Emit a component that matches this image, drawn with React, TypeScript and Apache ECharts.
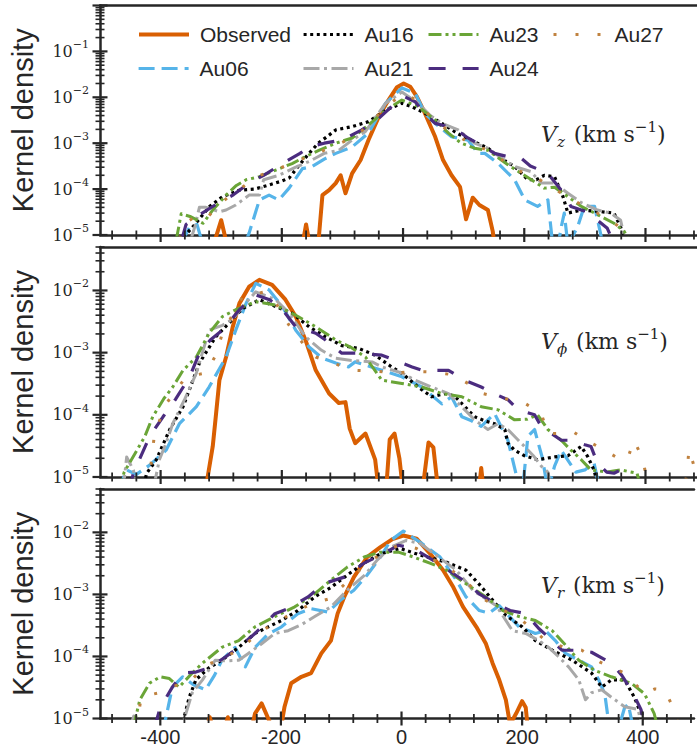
import React, { useEffect, useRef } from "react";
import * as echarts from "echarts";

type Pt = [number, number];

const seriesNames = ["Observed", "Au06", "Au16", "Au21", "Au23", "Au24", "Au27"];
const xTickLabels = [-400, -200, 0, 200, 400];
const xMinorTicks = [-480, -440, -360, -320, -280, -240, -160, -120, -80, -40, 40, 80, 120, 160, 240, 280, 320, 360, 440, 480];
const topYTickExponents = [-1, -2, -3, -4, -5];
const lowerYTickExponents = [-2, -3, -4, -5];
const panelSubscripts = ["z", "ϕ", "r"];

// ---------- V_z ----------
const vzObserved: Pt[] = [[-320,3e-6],[-300,2.1e-5],[-285,3e-6],[-170,3e-6],[-160,1.7e-5],[-150,3e-6],[-140,6e-6],[-133,7.4e-5],[-122,9.5e-5],[-111,1.35e-4],[-103,2.0e-4],[-95,8.1e-5],[-84,2.2e-4],[-70,4.3e-4],[-57,1.17e-3],[-40,3.8e-3],[-24,8.7e-3],[-10,1.66e-2],[1,2.0e-2],[12,1.7e-2],[23,1.02e-2],[36,4.5e-3],[53,1.38e-3],[66,4.3e-4],[80,2.0e-4],[94,1.12e-4],[104,2.2e-5],[115,6.5e-5],[126,4.5e-5],[140,3.5e-5],[148,1.2e-5],[152,5e-6]];
const vzAu06: Pt[] = [[-365,7e-6],[-352,1.5e-5],[-340,1.7e-5],[-330,6e-6],[-262,6e-6],[-254,1.1e-5],[-237,5.8e-5],[-221,7.4e-5],[-205,5.8e-5],[-188,1.05e-4],[-166,2.8e-4],[-150,3.1e-4],[-130,4.5e-4],[-111,6e-4],[-84,8.3e-4],[-57,1.66e-3],[-29,7.4e-3],[-2,1.6e-2],[20,1.23e-2],[36,4.5e-3],[53,2.7e-3],[80,1.38e-3],[107,1.17e-3],[124,6e-4],[135,6e-4],[157,3.6e-4],[184,1.6e-4],[201,5.8e-5],[222,4.2e-5],[239,5.8e-5],[246,8e-6],[256,6e-6],[261,1.5e-5],[266,3e-5],[272,6e-6],[288,1.5e-5],[299,4.2e-5],[316,4.2e-5],[328,8e-6]];
const vzAu16: Pt[] = [[-362,9e-6],[-347,1.5e-5],[-330,2.8e-5],[-319,4.2e-5],[-298,6.8e-5],[-270,9.5e-5],[-245,1.0e-4],[-221,1.23e-4],[-200,1.5e-4],[-188,1.74e-4],[-170,3.5e-4],[-155,6e-4],[-140,1.0e-3],[-122,1.5e-3],[-111,1.95e-3],[-84,2.3e-3],[-57,2.95e-3],[-29,5.2e-3],[-2,7.4e-3],[14,6.3e-3],[36,4.5e-3],[64,2.7e-3],[91,1.6e-3],[118,1.07e-3],[140,7.8e-4],[157,5.1e-4],[184,3.1e-4],[206,1.6e-4],[220,1.6e-4],[233,2.0e-4],[250,1.86e-4],[264,6.8e-5],[272,3.0e-5],[294,3.5e-5],[320,3.3e-5],[348,3.0e-5],[359,1.5e-5],[365,8e-6]];
const vzAu21: Pt[] = [[-350,8e-6],[-343,1.6e-5],[-336,4e-5],[-325,4e-5],[-303,3.2e-5],[-292,3.5e-5],[-276,4.5e-5],[-254,7.4e-5],[-237,7.4e-5],[-230,1.6e-4],[-205,2.0e-4],[-177,3.0e-4],[-155,4e-4],[-130,6e-4],[-106,7e-4],[-84,1.17e-3],[-62,1.8e-3],[-29,7.4e-3],[-2,1.3e-2],[25,7.4e-3],[45,4e-3],[64,2.7e-3],[91,1.95e-3],[118,1.0e-3],[140,7.8e-4],[160,5e-4],[184,3.1e-4],[211,2.4e-4],[228,1.35e-4],[250,1.35e-4],[272,8.1e-5],[295,5e-5],[321,3.5e-5],[343,3.0e-5],[359,2.1e-5],[366,8e-6]];
const vzAu23: Pt[] = [[-374,8e-6],[-366,2.9e-5],[-350,2.5e-5],[-330,1.8e-5],[-314,3.5e-5],[-292,7.4e-5],[-275,1.2e-4],[-259,1.6e-4],[-237,1.86e-4],[-210,2.6e-4],[-183,3.6e-4],[-161,5.1e-4],[-139,7e-4],[-111,1.0e-3],[-84,1.3e-3],[-57,2.5e-3],[-29,5.2e-3],[-2,8.7e-3],[25,6.3e-3],[53,3.2e-3],[75,1.66e-3],[96,1.0e-3],[118,7.8e-4],[140,7e-4],[173,3.4e-4],[195,2.2e-4],[215,1.5e-4],[233,1.05e-4],[250,1.1e-4],[272,6.8e-5],[294,4.2e-5],[316,3.0e-5],[348,1.8e-5],[365,1.2e-5],[372,8e-6]];
const vzAu24: Pt[] = [[-365,8e-6],[-358,1.7e-5],[-341,2.5e-5],[-308,4.7e-5],[-280,7.5e-5],[-254,1.35e-4],[-230,2.0e-4],[-199,3.6e-4],[-170,6e-4],[-155,8.3e-4],[-130,1.0e-3],[-101,1.17e-3],[-68,1.95e-3],[-40,3.5e-3],[-15,7e-3],[3,1.02e-2],[20,8e-3],[35,4.5e-3],[53,2.7e-3],[85,2.1e-3],[107,1.3e-3],[129,9e-4],[151,6e-4],[175,5e-4],[195,4.7e-4],[210,3.2e-4],[239,2.2e-4],[261,9.5e-5],[277,4.2e-5],[300,3.3e-5],[321,2.1e-5],[337,1.4e-5],[345,8e-6]];
const vzAu27: Pt[] = [[-470,5e-6],[-460,1.1e-5],[-450,5e-6],[-372,6e-6],[-360,1.8e-5],[-345,2.4e-5],[-325,2.2e-5],[-310,3.8e-5],[-290,6.5e-5],[-265,1.1e-4],[-243,1.86e-4],[-210,2.6e-4],[-177,4e-4],[-150,5.5e-4],[-120,8e-4],[-90,1.2e-3],[-60,2.2e-3],[-30,6e-3],[0,1.2e-2],[20,9e-3],[40,4.5e-3],[60,2.5e-3],[85,1.6e-3],[110,1.0e-3],[140,7e-4],[165,4.2e-4],[190,2.5e-4],[215,2.0e-4],[244,1.1e-4],[270,7e-5],[295,4.5e-5],[316,3.2e-5],[340,2.2e-5],[360,1.4e-5],[372,7e-6]];

// ---------- V_phi ----------
const vphiObserved: Pt[] = [[-325,7e-6],[-314,3.1e-5],[-309,9.3e-5],[-303,3.6e-4],[-292,8.5e-4],[-281,2.6e-3],[-270,6.2e-3],[-254,1.15e-2],[-237,1.48e-2],[-216,1.23e-2],[-194,7.1e-3],[-177,3.8e-3],[-161,1.6e-3],[-144,5.2e-4],[-122,2.2e-4],[-106,1.55e-4],[-95,1.6e-4],[-88,6e-5],[-79,3.5e-5],[-62,5e-5],[-46,1.9e-5],[-40,6e-6],[-28,6e-6],[-22,4e-5],[-14,5e-5],[-6,2e-5],[0,6e-6],[32,6e-6],[42,3.6e-5],[50,3e-5],[58,6e-6],[125,6e-6],[129,1.4e-5],[133,6e-6]];
const vphiAu06: Pt[] = [[-470,6e-6],[-456,1.3e-5],[-440,1.1e-5],[-418,1.55e-5],[-391,2.7e-5],[-369,7.2e-5],[-341,1.35e-4],[-320,2.8e-4],[-292,8.5e-4],[-276,2.3e-3],[-259,6.2e-3],[-243,1.3e-2],[-221,1.02e-2],[-199,5.5e-3],[-177,2.3e-3],[-155,1.23e-3],[-133,8.1e-4],[-111,6.8e-4],[-90,5.9e-4],[-79,7.1e-4],[-55,6e-4],[-35,5.2e-4],[-2,4.1e-4],[31,2.8e-4],[64,1.5e-4],[80,1.95e-4],[97,9.3e-5],[113,8e-5],[129,6.5e-5],[151,1.05e-4],[173,3.9e-5],[190,8e-6],[197,6e-6],[206,4.5e-5],[217,5.8e-5],[230,2e-5],[239,6e-6],[250,1.5e-5],[261,2.7e-5],[285,1.2e-5],[300,1.3e-5],[315,1.7e-5],[325,6e-6]];
const vphiAu16: Pt[] = [[-430,6e-6],[-423,1.15e-5],[-407,1.9e-5],[-385,5.8e-5],[-363,1.35e-4],[-336,6.8e-4],[-309,1.8e-3],[-287,3.0e-3],[-265,5.1e-3],[-237,7.1e-3],[-210,5.5e-3],[-183,4.3e-3],[-155,2.6e-3],[-128,1.8e-3],[-101,1.3e-3],[-73,1.17e-3],[-46,9.1e-4],[-20,6e-4],[0,4.5e-4],[25,2.8e-4],[47,1.95e-4],[70,2.2e-4],[85,2.0e-4],[102,1.35e-4],[118,9.3e-5],[135,8e-5],[151,7.2e-5],[168,5.8e-5],[173,3.5e-5],[184,2.7e-5],[200,2.2e-5],[222,1.9e-5],[250,2.1e-5],[272,2.2e-5],[294,3.1e-5],[305,2.1e-5],[315,1.3e-5],[322,7e-6]];
const vphiAu21: Pt[] = [[-462,6e-6],[-456,2.1e-5],[-445,1.3e-5],[-438,6e-6],[-410,8e-6],[-402,1.9e-5],[-391,3.5e-5],[-380,7.2e-5],[-360,1.8e-4],[-341,4.7e-4],[-320,2.3e-3],[-298,2.75e-3],[-280,3.5e-3],[-265,5.5e-3],[-243,9.5e-3],[-210,7.1e-3],[-188,4.3e-3],[-161,1.8e-3],[-135,1.1e-3],[-111,8.1e-4],[-85,7.5e-4],[-51,7.1e-4],[-35,5.9e-4],[-2,4.7e-4],[20,3.6e-4],[47,2.8e-4],[75,2.2e-4],[102,1.2e-4],[118,8.3e-5],[140,5.8e-5],[157,7.2e-5],[173,5.8e-5],[195,3.5e-5],[215,2.2e-5],[228,1.5e-5],[239,1.2e-5],[245,6e-6]];
const vphiAu23: Pt[] = [[-470,6e-6],[-460,1.2e-5],[-440,2.6e-5],[-426,4.5e-5],[-413,9.3e-5],[-395,1.8e-4],[-380,2.8e-4],[-363,5.2e-4],[-341,8.5e-4],[-320,2.05e-3],[-298,3.8e-3],[-276,4.9e-3],[-243,6.6e-3],[-210,5.8e-3],[-177,4.0e-3],[-144,2.6e-3],[-111,1.6e-3],[-85,1.2e-3],[-62,8.5e-4],[-35,3.6e-4],[-2,3.2e-4],[31,2.8e-4],[64,2.2e-4],[97,1.95e-4],[129,1.35e-4],[157,1.2e-4],[184,8.3e-5],[205,8.5e-5],[222,1.0e-4],[239,5.8e-5],[261,3.9e-5],[277,2.7e-5],[294,1.9e-5],[310,1.3e-5],[337,1.2e-5],[359,1.3e-5],[386,1.15e-5],[392,7e-6]];
const vphiAu24: Pt[] = [[-452,6e-6],[-445,1.15e-5],[-418,4.5e-5],[-396,9.3e-5],[-375,1.8e-4],[-352,4.1e-4],[-336,9.8e-4],[-318,1.6e-3],[-298,2.3e-3],[-270,4.9e-3],[-243,8.5e-3],[-220,7.1e-3],[-199,4.9e-3],[-177,2.6e-3],[-144,2.05e-3],[-128,1.6e-3],[-101,9.8e-4],[-73,9.8e-4],[-35,9.1e-4],[15,5.9e-4],[31,5.2e-4],[75,5.2e-4],[102,3.6e-4],[129,2.8e-4],[150,2.2e-4],[173,1.75e-4],[190,1.2e-4],[217,1.0e-4],[228,6.5e-5],[261,3.9e-5],[277,3.9e-5],[300,3.3e-5],[310,3.1e-5],[321,1.66e-5],[336,1.2e-5],[348,1.15e-5],[359,1.3e-5],[366,9e-6]];
const vphiAu27: Pt[] = [[-420,7e-6],[-410,5e-5],[-391,1.5e-4],[-358,4.1e-4],[-325,4.7e-4],[-309,9.1e-4],[-298,2.05e-3],[-265,7.9e-3],[-229,9.5e-3],[-210,6.3e-3],[-188,2.75e-3],[-165,1.4e-3],[-144,8.5e-4],[-110,6.5e-4],[-79,5.2e-4],[-40,5e-4],[-13,4.7e-4],[20,5e-4],[47,4.9e-4],[83,4.4e-4],[107,3.2e-4],[132,2.2e-4],[162,1.86e-4],[198,1.6e-4],[228,1.05e-4],[239,5e-5],[260,5e-5],[280,5.4e-5],[300,4e-5],[330,2.8e-5],[355,2.0e-5],[370,1.9e-5],[381,3.9e-5],[395,2e-5],[405,7e-6],[465,6e-6],[472,2.8e-5],[480,1.5e-5],[486,7e-6]];

// ---------- V_r ----------
const vrObserved: Pt[] = [[-325,6e-6],[-318,1.05e-5],[-311,6e-6],[-295,6e-6],[-288,1.05e-5],[-281,6e-6],[-250,6e-6],[-243,1.2e-5],[-232,1.75e-5],[-221,1.0e-5],[-212,6e-6],[-200,7e-6],[-194,1.55e-5],[-183,3.7e-5],[-166,4.7e-5],[-150,5.4e-5],[-133,1.12e-4],[-117,1.8e-4],[-106,4.9e-4],[-95,9.1e-4],[-79,1.9e-3],[-57,4.0e-3],[-35,5.8e-3],[-15,7.8e-3],[3,8.9e-3],[25,7.9e-3],[47,4.6e-3],[69,2.45e-3],[86,1.3e-3],[102,6.3e-4],[124,3.0e-4],[140,1.6e-4],[151,7.8e-5],[162,4.2e-5],[173,2.0e-5],[180,8e-6],[190,1.2e-5],[200,1.9e-5],[206,1.5e-5],[210,6e-6]];
const vrAu06: Pt[] = [[-398,6e-6],[-391,1e-5],[-380,3.2e-5],[-363,4.7e-5],[-345,3.5e-5],[-325,2.9e-5],[-310,5e-5],[-298,8.7e-5],[-276,1.4e-4],[-259,6.8e-5],[-243,1.4e-4],[-221,2.3e-4],[-199,3.0e-4],[-172,4.9e-4],[-150,5.9e-4],[-122,5.2e-4],[-101,8.1e-4],[-79,1.17e-3],[-57,2.05e-3],[-35,4.0e-3],[-18,7.4e-3],[3,1.05e-2],[31,6.9e-3],[64,4.0e-3],[91,1.7e-3],[107,9.1e-4],[129,5.5e-4],[145,5e-4],[162,6.6e-4],[179,4.4e-4],[195,3.0e-4],[222,2.35e-4],[239,2.6e-4],[255,1.8e-4],[272,1.12e-4],[294,8.7e-5],[315,6.8e-5],[327,4.2e-5],[337,2.5e-5],[344,8e-6],[360,7e-6],[370,1.5e-5],[376,1.7e-5],[383,8e-6]];
const vrAu16: Pt[] = [[-365,7e-6],[-352,2.2e-5],[-341,4.2e-5],[-320,6.5e-5],[-298,8.7e-5],[-270,1.4e-4],[-243,2.35e-4],[-221,3.0e-4],[-199,3.8e-4],[-172,5.5e-4],[-144,9.1e-4],[-117,1.3e-3],[-90,2.05e-3],[-62,3.2e-3],[-35,4.5e-3],[-2,5.5e-3],[31,4.3e-3],[75,3.3e-3],[107,2.45e-3],[129,1.45e-3],[151,8.1e-4],[173,4.6e-4],[200,3.0e-4],[222,1.8e-4],[250,1.26e-4],[283,8.7e-5],[315,5.4e-5],[332,3.2e-5],[348,4.2e-5],[370,4.2e-5],[386,2.2e-5],[397,1.2e-5],[402,7e-6]];
const vrAu21: Pt[] = [[-450,7e-6],[-444,1.1e-5],[-438,7e-6],[-365,7e-6],[-347,2.6e-5],[-330,4.2e-5],[-309,8.7e-5],[-290,8.5e-5],[-270,8.7e-5],[-254,1.12e-4],[-232,1.6e-4],[-210,2.35e-4],[-188,2.6e-4],[-165,3.3e-4],[-144,4.4e-4],[-117,6.3e-4],[-90,1.17e-3],[-62,2.0e-3],[-40,3.6e-3],[-18,5.8e-3],[8,7.4e-3],[31,6.6e-3],[53,4.6e-3],[91,2.45e-3],[118,1.17e-3],[157,6.6e-4],[184,2.6e-4],[206,2.35e-4],[228,1.8e-4],[244,1.4e-4],[260,1.0e-4],[277,6.8e-5],[294,4.2e-5],[305,2.0e-5],[315,2.6e-5],[332,2.9e-5],[348,2.2e-5],[370,1.55e-5],[392,1.4e-5],[400,7e-6]];
const vrAu23: Pt[] = [[-445,7e-6],[-434,2.0e-5],[-418,3.7e-5],[-400,4.7e-5],[-385,4.4e-5],[-369,3.2e-5],[-347,5.4e-5],[-330,7.8e-5],[-298,1.4e-4],[-270,1.8e-4],[-243,3.0e-4],[-210,4.4e-4],[-177,6.3e-4],[-144,1.02e-3],[-117,1.7e-3],[-90,2.75e-3],[-62,4.0e-3],[-35,4.8e-3],[-5,4.8e-3],[20,4.0e-3],[47,3.2e-3],[75,2.45e-3],[107,1.48e-3],[140,9.1e-4],[168,5.5e-4],[195,4.4e-4],[222,3.8e-4],[250,2.6e-4],[270,1.6e-4],[294,8.7e-5],[320,6e-5],[348,4.7e-5],[381,3.7e-5],[403,2.5e-5],[419,1.2e-5],[425,7e-6]];
const vrAu24: Pt[] = [[-410,7e-6],[-400,1.5e-5],[-380,3.2e-5],[-363,5.4e-5],[-341,5.6e-5],[-320,6.5e-5],[-292,9.8e-5],[-270,1.4e-4],[-243,2.35e-4],[-210,4.9e-4],[-188,5.9e-4],[-155,9.1e-4],[-128,1.5e-3],[-95,1.9e-3],[-62,3.2e-3],[-35,4.3e-3],[-5,6.2e-3],[20,5.5e-3],[60,3.2e-3],[102,1.7e-3],[130,1.0e-3],[157,7.1e-4],[180,5.5e-4],[206,4.9e-4],[228,2.8e-4],[250,1.8e-4],[266,1.26e-4],[294,1.26e-4],[315,1.17e-4],[348,7.8e-5],[365,5e-5],[381,2.9e-5],[397,1.4e-5],[405,7e-6]];
const vrAu27: Pt[] = [[-440,7e-6],[-432,2.1e-5],[-418,2.4e-5],[-402,2.6e-5],[-380,3.3e-5],[-352,3.8e-5],[-325,7.2e-5],[-300,9e-5],[-265,1.35e-4],[-240,2.3e-4],[-210,3.5e-4],[-180,5e-4],[-150,7e-4],[-120,8.5e-4],[-90,1.6e-3],[-60,3.0e-3],[-30,4.8e-3],[0,6.5e-3],[25,5.5e-3],[50,3.8e-3],[80,2.6e-3],[110,1.5e-3],[140,8e-4],[170,5.5e-4],[200,3.8e-4],[239,1.8e-4],[270,1.4e-4],[299,1.26e-4],[330,8e-5],[370,5.4e-5],[403,2.5e-5],[420,3e-5],[436,2.9e-5],[452,1.4e-5],[460,7e-6]];

const panelData: Pt[][][] = [
  [vzObserved, vzAu06, vzAu16, vzAu21, vzAu23, vzAu24, vzAu27],
  [vphiObserved, vphiAu06, vphiAu16, vphiAu21, vphiAu23, vphiAu24, vphiAu27],
  [vrObserved, vrAu06, vrAu16, vrAu21, vrAu23, vrAu24, vrAu27],
];
const panelYMax = [1, 0.05, 0.05];

const INK = "#262626";
const SANS = "Liberation Sans";
const SERIF = "DejaVu Serif";

const styles: Record<string, { color: string; width: number; type: any }> = {
  Observed: { color: "#d95f02", width: 4, type: "solid" },
  Au06: { color: "#56b4e9", width: 3.2, type: [16, 7] },
  Au16: { color: "#000000", width: 3.2, type: [3, 3.6] },
  Au21: { color: "#a8a8a8", width: 3, type: [16, 4.5, 3, 4.5] },
  Au23: { color: "#6aa537", width: 3, type: [13, 4, 3, 4, 3, 4] },
  Au24: { color: "#4b2c7f", width: 3.2, type: [17, 17] },
  Au27: { color: "#c0823f", width: 3, type: [3, 19] },
};

const legendPos: Record<string, [number, number]> = {
  Observed: [137, 24], Au16: [302, 24], Au23: [427, 24], Au27: [552, 24],
  Au06: [137, 58], Au21: [302, 58], Au24: [427, 58],
};

const grids = [
  { left: 96.5, right: 0, top: 5.5, height: 229.5 },
  { left: 96.5, right: 0, top: 247, height: 230 },
  { left: 96.5, right: 0, top: 489, height: 229.5 },
];
const labelY = [134, 341, 585];

function decadeTicks(maxV: number) {
  const major: number[] = [];
  const minor: number[] = [];
  for (let e = -5; e <= 0; e++) {
    const b = Math.pow(10, e);
    if (b <= maxV * 1.0001) major.push(b);
    for (let k = 2; k <= 9; k++) {
      const v = k * b;
      if (v <= maxV * 1.0001) minor.push(v);
    }
  }
  return { major, minor };
}

function tickSeries(idx: number, data: number[][], vertical: boolean, len: number, width: number) {
  return {
    type: "custom",
    xAxisIndex: idx,
    yAxisIndex: idx,
    silent: true,
    z: 20,
    clip: false,
    data,
    renderItem: (_p: any, api: any) => {
      const pt = api.coord([api.value(0), api.value(1)]);
      return {
        type: "line",
        shape: vertical
          ? { x1: pt[0], y1: pt[1] - len, x2: pt[0], y2: pt[1] + len }
          : { x1: pt[0] - len, y1: pt[1], x2: pt[0] + len, y2: pt[1] },
        style: { stroke: INK, lineWidth: width },
      };
    },
  };
}

export default function App() {
  const ref = useRef<HTMLDivElement>(null);
  useEffect(() => {
    if (!ref.current) return;
    const chart = echarts.init(ref.current, null, { renderer: "svg" });

    const xAxis: any[] = [];
    const yAxis: any[] = [];
    const series: any[] = [];

    for (let i = 0; i < 3; i++) {
      xAxis.push({
        type: "value", gridIndex: i, min: -500, max: 485, position: "bottom",
        axisLine: { show: true, onZero: false, lineStyle: { color: INK, width: 2.5 } },
        axisTick: { show: false }, splitLine: { show: false },
        axisLabel: {
          show: i === 2, margin: 8, fontFamily: SANS, fontSize: 20, color: INK,
          formatter: (v: number) => (xTickLabels.includes(v) ? String(v) : ""),
        },
      });
    }
    for (let i = 0; i < 3; i++) {
      xAxis.push({
        type: "value", gridIndex: i, min: -500, max: 485, position: "top",
        axisLine: { show: true, onZero: false, lineStyle: { color: INK, width: 2.5 } },
        axisTick: { show: false }, splitLine: { show: false }, axisLabel: { show: false },
      });
    }
    for (let i = 0; i < 3; i++) {
      const exps = i === 0 ? topYTickExponents : lowerYTickExponents;
      yAxis.push({
        type: "log", logBase: 10, gridIndex: i, min: 1e-5, max: panelYMax[i],
        axisLine: { show: true, onZero: false, lineStyle: { color: INK, width: 2.5 } },
        axisTick: { show: false }, splitLine: { show: false },
        name: "Kernel density", nameLocation: "middle", nameGap: 63,
        nameTextStyle: { fontFamily: SANS, fontSize: 29, color: INK },
        axisLabel: {
          margin: 11,
          formatter: (v: number) => {
            const l = Math.log10(v);
            const e = Math.round(l);
            if (Math.abs(l - e) > 0.01 || !exps.includes(e)) return "";
            return `{b|10}{s|−${Math.abs(e)}}`;
          },
          rich: {
            b: { fontFamily: SERIF, fontSize: 16, lineHeight: 24, color: INK },
            s: { fontFamily: SERIF, fontSize: 11, lineHeight: 10, verticalAlign: "top", color: INK },
          },
        },
      });

      seriesNames.forEach((name, k) => {
        const st = styles[name];
        series.push({
          type: "line", name, xAxisIndex: i, yAxisIndex: i,
          data: panelData[i][k], symbol: "none", showSymbol: false, clip: true,
          color: st.color, z: 2 + k * 0.01,
          lineStyle: { color: st.color, width: st.width, type: st.type, cap: "butt", join: "round" },
          emphasis: { disabled: true },
        });
      });

      const { major, minor } = decadeTicks(panelYMax[i]);
      series.push(tickSeries(i, xTickLabels.map((v) => [v, 1e-5]), true, 7, 2.2));
      series.push(tickSeries(i, xMinorTicks.map((v) => [v, 1e-5]), true, 4.5, 1.8));
      series.push(tickSeries(i, major.map((v) => [-500, v]), false, 7.5, 2.2));
      series.push(tickSeries(i, minor.map((v) => [-500, v]), false, 4.5, 1.6));
    }

    const legend = seriesNames.map((name) => ({
      data: [name], left: legendPos[name][0], top: legendPos[name][1], padding: 0,
      itemWidth: 50, itemHeight: 14, itemGap: 0, selectedMode: false,
      textStyle: { fontFamily: SANS, fontSize: 21, color: INK, padding: [0, 0, 0, 6] },
      itemStyle: { color: "rgba(0,0,0,0)", borderColor: "rgba(0,0,0,0)", borderWidth: 0, opacity: 0 },
      lineStyle: { width: styles[name].width },
    }));

    const graphic = panelSubscripts.map((sub, i) => ({
      type: "text", x: 541, y: labelY[i], silent: true,
      style: {
        text: `{i|V}{u|${sub}}{g| }{n|(km s}{p|−1}{n|)}`,
        verticalAlign: "middle", align: "left",
        rich: {
          i: { fontFamily: SERIF, fontStyle: "italic", fontSize: 22, lineHeight: 30, fill: INK },
          u: { fontFamily: SERIF, fontStyle: "italic", fontSize: 15, lineHeight: 14, verticalAlign: "bottom", fill: INK },
          g: { fontSize: 10, width: 9, lineHeight: 30 },
          n: { fontFamily: SERIF, fontSize: 22, lineHeight: 30, fill: INK },
          p: { fontFamily: SERIF, fontSize: 15, lineHeight: 14, verticalAlign: "top", fill: INK },
        },
      },
    }));

    chart.setOption({
      animation: false,
      backgroundColor: "#ffffff",
      grid: grids,
      xAxis, yAxis, series, legend, graphic,
    });
    return () => chart.dispose();
  }, []);
  return <div ref={ref} style={{ position: "fixed", left: 0, top: 0, width: 697, height: 751 }} />;
}
